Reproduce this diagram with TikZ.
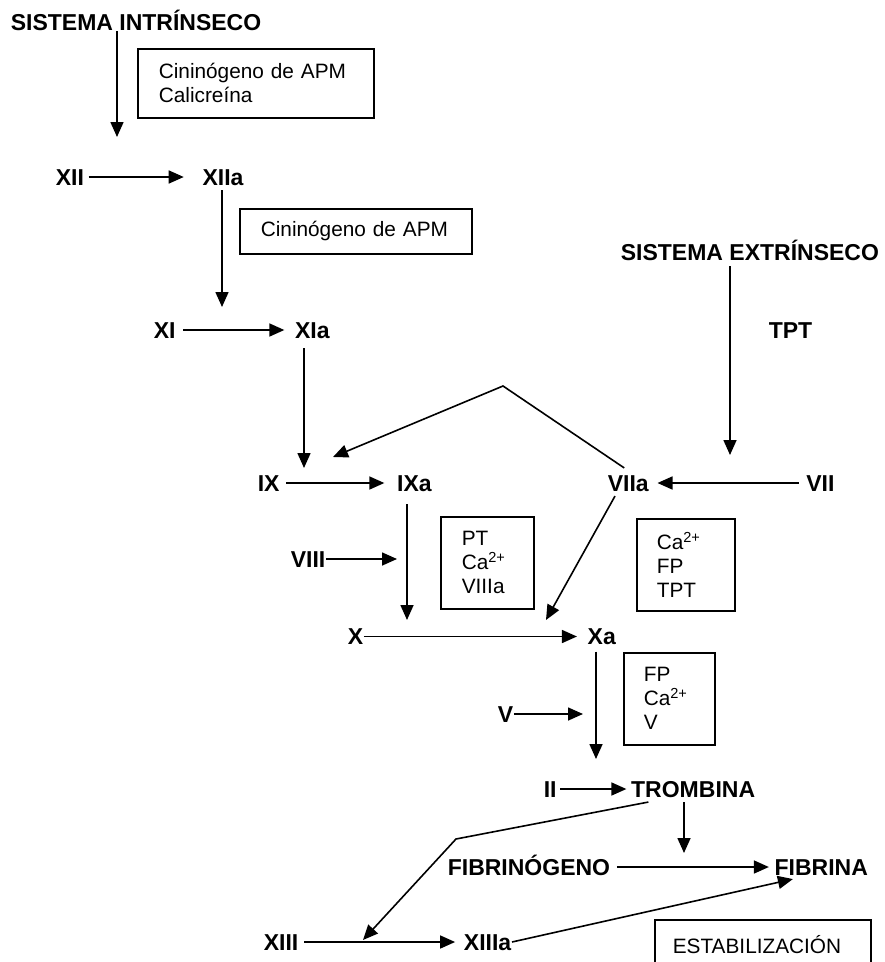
\documentclass[tikz,border=0pt]{standalone}
\usepackage{fontspec}
\setmainfont{Liberation Sans}
\usetikzlibrary{arrows.meta,positioning}

\begin{document}
\begin{tikzpicture}[
  x=1pt, y=-1pt,
  line width=1.6pt,
  fac/.style = {font=\fontsize{23}{27}\selectfont\bfseries, inner sep=0pt,
                text height=16.5pt, text depth=0pt, anchor=west},
  cof/.style = {draw, font=\fontsize{20.8}{24}\selectfont, anchor=north west,
                align=left, inner ysep=0pt},
  ar/.style  = {-{Triangle[length=15pt,width=13pt]}},
]
\useasboundingbox (0,0) rectangle (885,962);

%% --- intrinsic pathway ---
\node[fac] (sisi) at (10,22) {SISTEMA INTRÍNSECO};
\node[cof, text width=194pt, inner xsep=21pt, minimum height=69pt] (cal) at (137,48)
  {Cininógeno de APM\\Calicreína};

\node[fac] (xii) at (55,177) {XII};
\node[fac, right=117pt of xii] (xiia) {XIIa};
\node[cof, text width=190pt, inner xsep=21pt, minimum height=45pt] (cin) at (239,208)
  {Cininógeno de APM};

\node[fac] (xi) at (153,330) {XI};
\node[fac, right=118pt of xi] (xia) {XIa};

\node[fac] (ix) at (257,483) {IX};
\node[fac, right=116pt of ix] (ixa) {IXa};

%% --- extrinsic pathway ---
\node[fac] (sise) at (620,252) {SISTEMA EXTRÍNSECO};
\node[fac] (tpt) at (768,330) {TPT};
\node[fac] (viia) at (607,483) {VIIa};
\node[fac, right=156pt of viia] (vii) {VII};
\node[cof, text width=58pt, inner xsep=20pt, minimum height=92pt] (cafp) at (636,518)
  {Ca\textsuperscript{2+}\\FP\\TPT};

%% --- common pathway ---
\node[fac] (viii) at (290,559) {VIII};
\node[cof, text width=51pt, inner xsep=21pt, minimum height=92pt] (ptca) at (440,516)
  {PT\\Ca\textsuperscript{2+}\\VIIIa};

\node[fac] (x) at (347,636.5) {X};
\node[fac, right=223pt of x] (xa) {Xa};
\node[cof, text width=51pt, inner xsep=20pt, minimum height=92pt] (fpca) at (623,652)
  {FP\\Ca\textsuperscript{2+}\\V};
\node[fac] (v) at (497,714) {V};

\node[fac] (ii) at (543,789) {II};
\node[fac, right=73pt of ii] (trombina) {TROMBINA};

\node[fac] (fibrinogeno) at (447,867) {FIBRINÓGENO};
\node[fac, right=163pt of fibrinogeno] (fibrina) {FIBRINA};

\node[fac] (xiii) at (263,942) {XIII};
\node[fac, right=164pt of xiii] (xiiia) {XIIIa};
\node[cof, text width=180pt, inner xsep=18pt, minimum height=49pt] (estab) at (654,919)
  {ESTABILIZACIÓN};

%% --- free ends ---
\coordinate (xiiin)   at (117,137);
\coordinate (xiin)    at (222,307);
\coordinate (ixin)    at (304,468);
\coordinate (extin)   at (730,455);
\coordinate (peak)    at (503,386);
\coordinate (ixact)   at (333,457);
\coordinate (xin)     at (407,620);
\coordinate (viiiin)  at (397,559);
\coordinate (xact)    at (546,620);
\coordinate (trin)    at (596,759);
\coordinate (vin)     at (583,714);
\coordinate (fibin)   at (684,853);
\coordinate (bend)    at (456,839);
\coordinate (xiiiact) at (363,940);

%% --- arrows ---
\draw[ar] (sisi.south -| xiiin) -- (xiiin);
\draw[ar, shorten <=4pt, shorten >=18pt] (xii) -- (xiia);
\draw[ar, shorten <=4pt] (xiia.south -| xiin) -- (xiin);
\draw[ar, shorten <=7pt, shorten >=10pt] (xi) -- (xia);
\draw[ar, shorten <=9pt] (xia.south -| ixin) -- (ixin);
\draw[ar, shorten <=6pt, shorten >=12pt] (ix) -- (ixa);

\draw[ar, shorten <=5pt] (sise.south -| extin) -- (extin);
\draw[ar, shorten <=7pt, shorten >=8pt] (vii) -- (viia);
\draw[ar] ([xshift=-4pt,yshift=6pt]viia.north) -- (peak) -- (ixact);
\draw[ar] ([xshift=8pt,yshift=-4pt]viia.south west) -- (xact);

\draw[ar, shorten <=12pt] (ixa.south -| xin) -- (xin);
\draw[ar] (viii.east) -- (viiiin);
\draw[ar, shorten >=10pt] (x) -- (xa);
\draw[ar, shorten <=6pt] (xa.south -| trin) -- (trin);
\draw[ar] (v.east) -- (vin);
\draw[ar, shorten <=3pt, shorten >=4pt] (ii) -- (trombina);

\draw[ar, shorten <=4pt] (trombina.south -| fibin) -- (fibin);
\draw[ar, shorten <=6pt, shorten >=5pt] (fibrinogeno) -- (fibrina);
\draw[ar] ([xshift=18pt,yshift=-4pt]trombina.south west) -- (bend) -- (xiiiact);
\draw[ar, shorten <=5pt, shorten >=8pt] (xiii) -- (xiiia);
\draw[ar] (xiiia.east) -- ([xshift=19pt,yshift=-3pt]fibrina.south west);
\end{tikzpicture}
\end{document}
